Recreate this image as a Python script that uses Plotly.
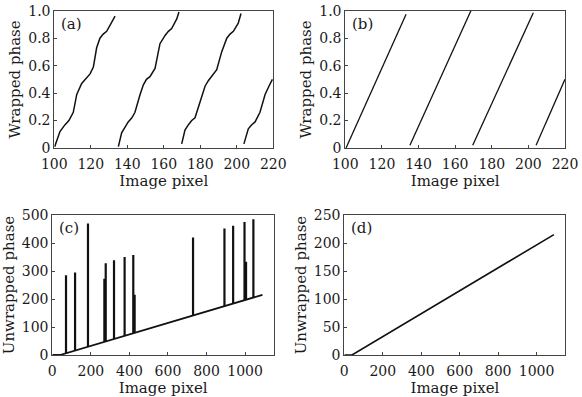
import plotly.graph_objects as go

# ---- Panel (a): wrapped phase with ripple ----
a_seg1_x = [100.2, 103.1, 105.9, 108.0, 110.4, 112.3, 115.0, 117.5, 119.6, 121.4, 123.2, 125.0, 126.8, 128.7, 131.4, 133.3]
a_seg1_y = [0.01, 0.12, 0.17, 0.20, 0.26, 0.39, 0.47, 0.51, 0.54, 0.59, 0.73, 0.80, 0.83, 0.85, 0.91, 0.96]
a_seg2_x = [135.1, 136.9, 138.7, 140.5, 142.5, 144.2, 147.0, 148.8, 150.5, 152.4, 155.2, 157.9, 160.7, 162.5, 164.3, 167.1, 168.3]
a_seg2_y = [0.01, 0.11, 0.15, 0.19, 0.22, 0.26, 0.39, 0.46, 0.50, 0.52, 0.58, 0.76, 0.82, 0.85, 0.87, 0.94, 0.99]
a_seg3_x = [169.8, 171.6, 173.5, 175.3, 177.1, 179.8, 182.6, 184.4, 186.2, 189.0, 191.7, 194.5, 196.3, 198.1, 200.8, 202.3]
a_seg3_y = [0.03, 0.13, 0.17, 0.20, 0.22, 0.34, 0.45, 0.49, 0.52, 0.57, 0.70, 0.80, 0.83, 0.85, 0.91, 0.98]
a_seg4_x = [203.9, 206.3, 208.2, 210.0, 212.7, 215.5, 217.6, 219.5]
a_seg4_y = [0.03, 0.14, 0.17, 0.19, 0.26, 0.39, 0.45, 0.50]

# ---- Panel (b): wrapped phase, clean ----
b_seg1_x = [100.4, 133.2]
b_seg1_y = [0.0, 0.975]
b_seg2_x = [135.3, 168.6]
b_seg2_y = [0.02, 1.0]
b_seg3_x = [169.6, 202.7]
b_seg3_y = [0.02, 0.985]
b_seg4_x = [204.2, 220.0]
b_seg4_y = [0.02, 0.50]

# ---- Panels (c),(d): unwrapped phase ----
line_x = [0, 40, 1090]
line_y = [0, 0, 215]
spike_x = [71, 118, 185, 270, 277, 320, 375, 420, 427, 730, 893, 938, 997, 1005, 1043]
spike_base = [6, 16, 30, 47, 49, 57, 69, 78, 79, 141, 175, 184, 196, 198, 205]
spike_top = [285, 295, 470, 272, 328, 338, 350, 357, 215, 420, 452, 462, 475, 333, 485]

wrap_ticks = [0, 0.2, 0.4, 0.6, 0.8, 1.0]
wrap_ticktext = ["0", "0.2", "0.4", "0.6", "0.8", "1.0"]
pix_ticks = [100, 120, 140, 160, 180, 200, 220]
img_ticks = [0, 200, 400, 600, 800, 1000]
c_yticks = [0, 100, 200, 300, 400, 500]
d_yticks = [0, 50, 100, 150, 200, 250]

FONT = "DejaVu Serif"
LC = "#111111"
TC = "#1a1a1a"

fig = go.Figure()

def add_line(x, y, xa, ya, w=1.5):
    fig.add_trace(go.Scatter(x=x, y=y, mode="lines", xaxis=xa, yaxis=ya,
                             line=dict(color=LC, width=w), showlegend=False,
                             hoverinfo="skip"))

for sx, sy in [(a_seg1_x, a_seg1_y), (a_seg2_x, a_seg2_y), (a_seg3_x, a_seg3_y), (a_seg4_x, a_seg4_y)]:
    add_line(sx, sy, "x", "y", 1.5)
for sx, sy in [(b_seg1_x, b_seg1_y), (b_seg2_x, b_seg2_y), (b_seg3_x, b_seg3_y), (b_seg4_x, b_seg4_y)]:
    add_line(sx, sy, "x2", "y2", 1.3)

# (c) spikes + baseline
sx_all, sy_all = [], []
for xv, b, t in zip(spike_x, spike_base, spike_top):
    sx_all += [xv, xv, None]
    sy_all += [b, t, None]
add_line(sx_all, sy_all, "x3", "y3", 2.2)
add_line(line_x, line_y, "x3", "y3", 1.8)
# (d)
add_line(line_x, line_y, "x4", "y4", 1.6)

axis_common = dict(showline=True, linecolor="#444444", linewidth=1, mirror=True,
                   ticks="inside", ticklen=3, tickcolor="#444444", showgrid=False,
                   zeroline=False, automargin=False, ticklabeloverflow="allow",
                   tickfont=dict(family=FONT, size=14, color=TC),
                   title_font=dict(family=FONT, size=15, color=TC))
xaxis_extra = dict(ticklabelstandoff=3)

dxa = [0.0933, 0.4696]
dxb = [0.5933, 0.9708]
dxc = [0.0899, 0.4708]
dxd = [0.5916, 0.9716]
dy_top = [0.6272, 0.973]
dy_bot = [0.1058, 0.4584]

fig.update_layout(
    width=582, height=397, margin=dict(l=0, r=0, t=0, b=0),
    paper_bgcolor="white", plot_bgcolor="white",
    xaxis=dict(domain=dxa, range=[100, 220], tickvals=pix_ticks, anchor="y",
               title=dict(text="Image pixel", standoff=0), **axis_common, **xaxis_extra),
    yaxis=dict(domain=dy_top, range=[0, 1], tickvals=wrap_ticks, ticktext=wrap_ticktext, anchor="x",
               title=dict(text="Wrapped phase", standoff=3), **axis_common),
    xaxis2=dict(domain=dxb, range=[100, 220], tickvals=pix_ticks, anchor="y2",
                title=dict(text="Image pixel", standoff=0), **axis_common, **xaxis_extra),
    yaxis2=dict(domain=dy_top, range=[0, 1], tickvals=wrap_ticks, ticktext=wrap_ticktext, anchor="x2",
                title=dict(text="Wrapped phase", standoff=3), **axis_common),
    xaxis3=dict(domain=dxc, range=[0, 1150], tickvals=img_ticks, anchor="y3",
                title=dict(text="Image pixel", standoff=0), **axis_common, **xaxis_extra),
    yaxis3=dict(domain=dy_bot, range=[0, 500], tickvals=c_yticks, anchor="x3",
                title=dict(text="Unwrapped phase", standoff=3), **axis_common),
    xaxis4=dict(domain=dxd, range=[0, 1150], tickvals=img_ticks, anchor="y4",
                title=dict(text="Image pixel", standoff=0), **axis_common, **xaxis_extra),
    yaxis4=dict(domain=dy_bot, range=[0, 250], tickvals=d_yticks, anchor="x4",
                title=dict(text="Unwrapped phase", standoff=3), **axis_common),
)

for lab, xr, yr in [("(a)", "x", "y"), ("(b)", "x2", "y2"), ("(c)", "x3", "y3"), ("(d)", "x4", "y4")]:
    fig.add_annotation(text=lab, xref=f"{xr} domain", yref=f"{yr} domain", x=0.02, y=0.985,
                       xanchor="left", yanchor="top", showarrow=False,
                       font=dict(family=FONT, size=15, color=TC))

fig.write_html("out.html", config={"displayModeBar": False},
               post_script="document.body.style.margin='0';document.body.style.overflow='hidden';")
